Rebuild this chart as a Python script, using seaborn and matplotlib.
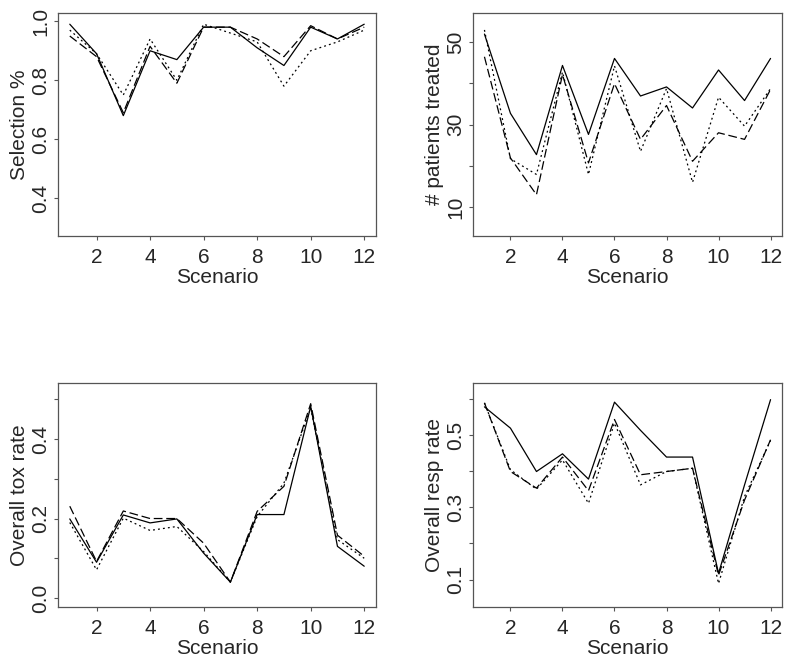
import numpy as np
import pandas as pd
import matplotlib
matplotlib.use("Agg")
import matplotlib.pyplot as plt
import seaborn as sns

scenario = list(range(1, 12 + 1))
designs = ["A", "B", "C"]

# selection %
sel_a = [0.99, 0.89, 0.68, 0.90, 0.87, 0.98, 0.98, 0.91, 0.85, 0.98, 0.94, 0.99]
sel_b = [0.95, 0.88, 0.69, 0.915, 0.79, 0.98, 0.98, 0.94, 0.88, 0.985, 0.94, 0.98]
sel_c = [0.97, 0.89, 0.75, 0.94, 0.80, 0.99, 0.96, 0.93, 0.78, 0.90, 0.93, 0.97]

# patients treated
pat_a = [51.9, 32.7, 22.7, 44.3, 27.6, 46.0, 36.9, 39.1, 34.0, 43.2, 35.8, 46.0]
pat_b = [46.4, 21.9, 13.0, 42.1, 20.7, 39.9, 26.4, 34.6, 21.1, 28.0, 26.4, 38.5]
pat_c = [52.9, 21.7, 17.9, 42.7, 17.9, 44.2, 23.5, 38.7, 16.0, 36.6, 29.6, 38.7]

# overall tox rate
tox_a = [0.199, 0.090, 0.209, 0.189, 0.199, 0.113, 0.040, 0.210, 0.210, 0.482, 0.130, 0.080]
tox_b = [0.231, 0.092, 0.219, 0.200, 0.200, 0.138, 0.040, 0.218, 0.281, 0.489, 0.158, 0.105]
tox_c = [0.190, 0.071, 0.201, 0.170, 0.180, 0.117, 0.040, 0.205, 0.289, 0.478, 0.147, 0.100]

# overall resp rate
resp_a = [0.578, 0.519, 0.399, 0.448, 0.378, 0.591, 0.513, 0.439, 0.439, 0.117, 0.362, 0.598]
resp_b = [0.589, 0.399, 0.353, 0.439, 0.346, 0.543, 0.390, 0.399, 0.408, 0.112, 0.320, 0.487]
resp_c = [0.589, 0.404, 0.350, 0.431, 0.311, 0.533, 0.362, 0.399, 0.408, 0.089, 0.330, 0.485]

panels = [
    ("Selection %", [sel_a, sel_b, sel_c], (0.272, 1.028), [0.4, 0.6, 0.8, 1.0], ["0.4", "0.6", "0.8", "1.0"]),
    ("# patients treated", [pat_a, pat_b, pat_c], (3.0, 57.0), [10, 20, 30, 40, 50], ["10", "", "30", "", "50"]),
    ("Overall tox rate", [tox_a, tox_b, tox_c], (-0.0226, 0.541), [0.0, 0.1, 0.2, 0.3, 0.4, 0.5], ["0.0", "", "0.2", "", "0.4", ""]),
    ("Overall resp rate", [resp_a, resp_b, resp_c], (0.024, 0.644), [0.1, 0.2, 0.3, 0.4, 0.5, 0.6], ["0.1", "", "0.3", "", "0.5", ""]),
]

sns.set_theme(style="ticks")
plt.rcParams["font.family"] = ["Liberation Sans", "DejaVu Sans"]

fig = plt.figure(figsize=(8, 6.7), dpi=100)
W, H = 800, 670
boxes = [(58, 13, 376, 236), (473, 13, 782, 236), (58, 383, 376, 607), (473, 383, 782, 607)]

for (ylab, series, ylim, yt, ytl), (x0, y0, x1, y1) in zip(panels, boxes):
    ax = fig.add_axes([x0 / W, 1 - y1 / H, (x1 - x0) / W, (y1 - y0) / H])
    df = pd.DataFrame({
        "Scenario": scenario * 3,
        "value": series[0] + series[1] + series[2],
        "design": np.repeat(designs, len(scenario)),
    })
    sns.lineplot(data=df, x="Scenario", y="value", style="design",
                 dashes=["", (7, 3), (1.5, 2.5)], color="black", linewidth=0.9,
                 legend=False, ax=ax)
    ax.set_xlim(0.56, 12.44)
    ax.set_ylim(*ylim)
    ax.set_xticks([2, 4, 6, 8, 10, 12])
    ax.set_yticks(yt)
    ax.set_yticklabels(ytl, rotation=90, va="center")
    ax.set_xlabel("Scenario", fontsize=15, labelpad=1)
    ax.set_ylabel(ylab, fontsize=15, labelpad=2)
    ax.tick_params(labelsize=15, length=3, width=0.8, color="#555555")
    ax.tick_params(axis="x", pad=5.5)
    ax.tick_params(axis="y", pad=2.5)
    for s in ax.spines.values():
        s.set_visible(True)
        s.set_color("#555555")
        s.set_linewidth(0.9)

fig.savefig("out.png", dpi=100)
